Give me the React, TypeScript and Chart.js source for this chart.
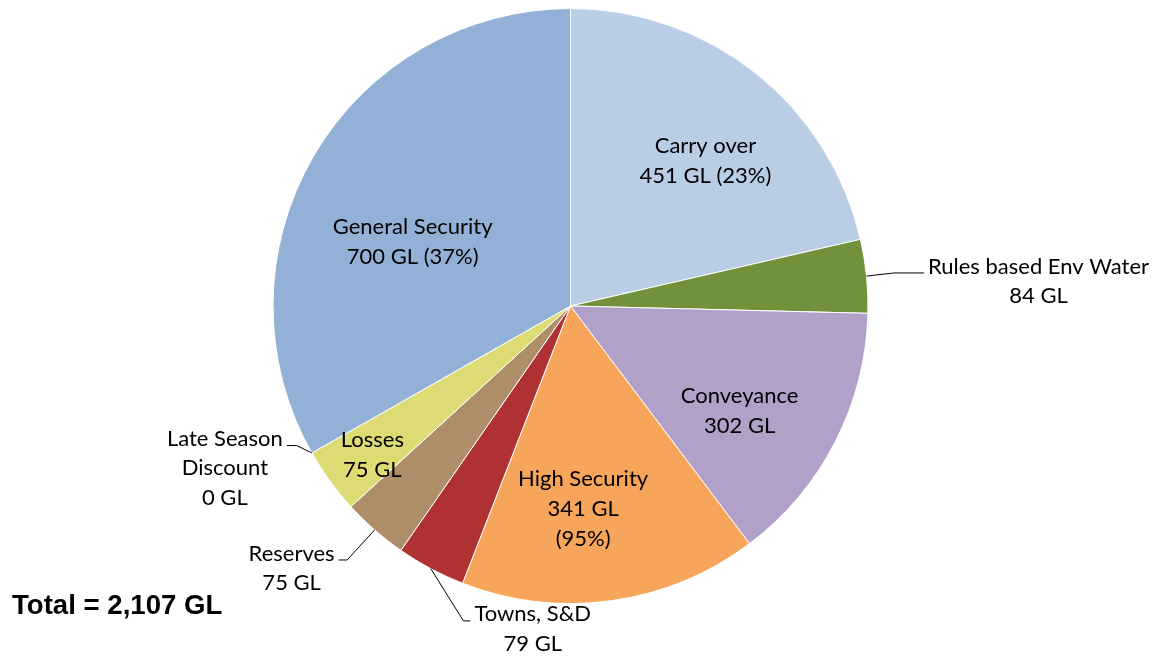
import React, { useEffect, useRef } from "react";
import { Chart, registerables } from "chart.js";

Chart.register(...registerables);

// ---- data ----
const categories = [
  "Carry over",
  "Rules based Env Water",
  "Conveyance",
  "High Security",
  "Towns, S&D",
  "Reserves",
  "Losses",
  "Late Season Discount",
  "General Security",
];
const valuesGL = [451, 84, 302, 341, 79, 75, 75, 0, 700];
const percentLabels: (number | null)[] = [23, null, null, 95, null, null, null, null, 37];
const totalLabel = "Total = 2,107 GL";

// ---- styles ----
const sliceColors = [
  "#B9CDE5",
  "#71923B",
  "#B1A0C7",
  "#F7A55A",
  "#AF3131",
  "#AD8E68",
  "#DCDB74",
  "#C0C0C0",
  "#93B1D7",
];

// how the category name is broken into lines
const nameBreaks: Record<string, string[]> = {
  "Late Season Discount": ["Late Season", "Discount"],
};

type Place =
  | { type: "in"; r: number; da: number; pct?: "inline" | "newline" }
  | { type: "out"; dx: number; dy: number; side: "left" | "right"; L: number; pct?: "inline" | "newline" };

const placement: Place[] = [
  { type: "in", r: 0.666, da: 4.4, pct: "inline" },
  { type: "out", dx: 172, dy: 5, side: "right", L: 30 },
  { type: "in", r: 0.669, da: 4.6 },
  { type: "in", r: 0.683, da: 4.3, pct: "newline" },
  { type: "out", dx: 102, dy: 60.4, side: "right", L: 7 },
  { type: "out", dx: -83, dy: 38.2, side: "left", L: 8.5 },
  { type: "in", r: 0.834, da: -1 },
  { type: "out", dx: -87, dy: 15.4, side: "left", L: 10 },
  { type: "in", r: 0.573, da: -8, pct: "inline" },
];

const LABEL_FONT = "22px Lato, 'Open Sans', sans-serif";
const TOTAL_FONT = "bold 27.6px 'Liberation Sans', Arial, sans-serif";

function labelLines(i: number): string[] {
  const name = categories[i];
  const nameLines = nameBreaks[name] || [name];
  const val = `${valuesGL[i]} GL`;
  const p = percentLabels[i];
  const mode = placement[i].pct;
  if (p == null) return [...nameLines, val];
  if (mode === "newline") return [...nameLines, val, `(${p}%)`];
  return [...nameLines, `${val} (${p}%)`];
}

const labelPlugin = {
  id: "pieLabels",
  afterDatasetsDraw(chart: any) {
    const ctx = chart.ctx as CanvasRenderingContext2D;
    const meta = chart.getDatasetMeta(0);
    ctx.save();
    ctx.font = LABEL_FONT;
    ctx.fillStyle = "#000000";
    ctx.strokeStyle = "#000000";
    ctx.lineWidth = 1;
    ctx.textAlign = "center";
    ctx.textBaseline = "middle";
    meta.data.forEach((arc: any, i: number) => {
      const { x, y, startAngle, endAngle, outerRadius } = arc.getProps(
        ["x", "y", "startAngle", "endAngle", "outerRadius"],
        true
      );
      const mid = (startAngle + endAngle) / 2;
      const lines = labelLines(i);
      const pl = placement[i];
      if (pl.type === "in") {
        const lh = 30;
        const a = mid + (pl.da * Math.PI) / 180;
        const cx = x + Math.cos(a) * outerRadius * pl.r;
        const cy = y + Math.sin(a) * outerRadius * pl.r;
        lines.forEach((t, k) => {
          ctx.fillText(t, cx, cy + (k - (lines.length - 1) / 2) * lh);
        });
      } else {
        const lh = 29.3;
        const ex = x + Math.cos(mid) * outerRadius;
        const ey = y + Math.sin(mid) * outerRadius;
        const cx = ex + pl.dx;
        const cy = ey + pl.dy;
        const w = Math.max(...lines.map((t) => ctx.measureText(t).width));
        const firstY = cy - ((lines.length - 1) / 2) * lh;
        const ay = firstY + 6.5;
        const ax = pl.side === "right" ? cx - w / 2 - 4 : cx + w / 2 + 4;
        const bx = pl.side === "right" ? ax - pl.L : ax + pl.L;
        ctx.beginPath();
        ctx.moveTo(ex, ey);
        ctx.lineTo(bx, ay);
        ctx.lineTo(ax, ay);
        ctx.stroke();
        lines.forEach((t, k) => {
          ctx.fillText(t, cx, firstY + k * lh);
        });
      }
    });
    // total
    ctx.font = TOTAL_FONT;
    ctx.textAlign = "left";
    ctx.textBaseline = "alphabetic";
    ctx.fillText(totalLabel, 12, 614);
    ctx.restore();
  },
};

export default function App() {
  const ref = useRef<HTMLCanvasElement | null>(null);
  useEffect(() => {
    if (!ref.current) return;
    const chart = new Chart(ref.current, {
      type: "pie",
      data: {
        labels: categories,
        datasets: [
          {
            data: valuesGL,
            backgroundColor: sliceColors,
            borderColor: "#ffffff",
            borderWidth: 1,
          },
        ],
      },
      options: {
        responsive: false,
        animation: false,
        layout: { padding: { left: 272, right: 292, top: 8, bottom: 53 } },
        plugins: {
          legend: { display: false },
          tooltip: { enabled: false },
        },
      },
      plugins: [labelPlugin],
    });
    return () => chart.destroy();
  }, []);
  return (
    <div style={{ position: "fixed", left: 0, top: 0, width: 1161, height: 657, background: "#fff" }}>
      <canvas ref={ref} width={1161} height={657} style={{ width: 1161, height: 657, display: "block" }} />
    </div>
  );
}
